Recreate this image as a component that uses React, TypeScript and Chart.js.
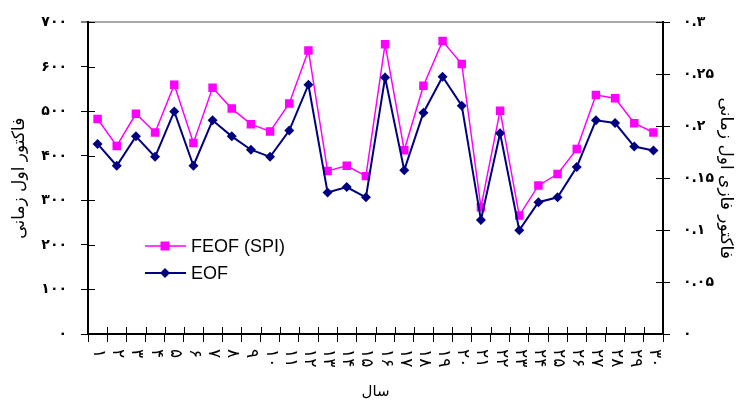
import React, { useEffect, useRef } from 'react';
import { Chart, registerables } from 'chart.js';

Chart.register(...registerables);

const categories = ['۱', '۲', '۳', '۴', '۵', '۶', '۷', '۸', '۹', '۱۰', '۱۱', '۱۲', '۱۳', '۱۴', '۱۵', '۱۶', '۱۷', '۱۸', '۱۹', '۲۰', '۲۱', '۲۲', '۲۳', '۲۴', '۲۵', '۲۶', '۲۷', '۲۸', '۲۹', '۳۰'];

// Fuzzy EOF (right axis)
const feofValues = [0.207, 0.181, 0.212, 0.194, 0.240, 0.184, 0.237, 0.217, 0.202, 0.195, 0.222, 0.273, 0.157, 0.162, 0.152, 0.279, 0.177, 0.239, 0.282, 0.260, 0.122, 0.215, 0.114, 0.143, 0.154, 0.178, 0.230, 0.227, 0.203, 0.194];

// EOF (left axis)
const eofValues = [427, 378, 444, 398, 500, 378, 480, 444, 414, 398, 457, 560, 318, 330, 307, 576, 368, 497, 578, 513, 256, 451, 233, 296, 307, 375, 480, 474, 421, 412];

const leftTickLabels = ['۰', '۱۰۰', '۲۰۰', '۳۰۰', '۴۰۰', '۵۰۰', '۶۰۰', '۷۰۰'];
const rightTickLabels = ['۰', '۰.۰۵', '۰.۱', '۰.۱۵', '۰.۲', '۰.۲۵', '۰.۳'];

const seriesLabels = ['FEOF (SPI)', 'EOF'];
const leftTitle = 'فاکتور اول زمانی';
const rightTitle = 'فاکتور فازی اول زمانی';
const xTitle = 'سال';

const ARABIC_FONT = 'Tahoma, "DejaVu Sans", sans-serif';
const MAGENTA = '#ff00ff';
const NAVY = '#000080';

const innerTicksPlugin = {
  id: 'innerTicks',
  afterDraw(chart: any) {
    const ctx = chart.ctx;
    const { x, y, y2 } = chart.scales;
    ctx.save();
    ctx.strokeStyle = '#000';
    ctx.lineWidth = 1;
    ctx.beginPath();
    y.ticks.forEach((t: any) => {
      const py = Math.round(y.getPixelForValue(t.value)) + 0.5;
      ctx.moveTo(y.right, py);
      ctx.lineTo(y.right + 7, py);
    });
    y2.ticks.forEach((t: any) => {
      const py = Math.round(y2.getPixelForValue(t.value)) + 0.5;
      ctx.moveTo(y2.left - 7, py);
      ctx.lineTo(y2.left, py);
    });
    const n = categories.length;
    const step = (x.right - x.left) / n;
    for (let k = 0; k <= n; k++) {
      const px = Math.round(x.left + k * step) + 0.5;
      ctx.moveTo(px, x.top - 7);
      ctx.lineTo(px, x.top);
    }
    ctx.stroke();

    // x tick labels, rotated clockwise
    ctx.fillStyle = '#000';
    ctx.font = `17px ${ARABIC_FONT}`;
    ctx.textAlign = 'left';
    ctx.textBaseline = 'middle';
    categories.forEach((lab, i) => {
      const px = x.getPixelForTick(i);
      ctx.save();
      ctx.translate(px + 1, x.top + 15);
      ctx.rotate(Math.PI / 2);
      ctx.fillText(lab, 0, 0);
      ctx.restore();
    });
    ctx.restore();
  },
};

const legendPlugin = {
  id: 'customLegend',
  afterDraw(chart: any) {
    const ctx = chart.ctx;
    const lx = 145;
    const rows = [
      { y: 246, color: MAGENTA, width: 1.5, marker: 'square', label: seriesLabels[0] },
      { y: 273, color: NAVY, width: 2, marker: 'diamond', label: seriesLabels[1] },
    ];
    ctx.save();
    rows.forEach((r) => {
      ctx.strokeStyle = r.color;
      ctx.lineWidth = r.width;
      ctx.beginPath();
      ctx.moveTo(lx, r.y);
      ctx.lineTo(lx + 41, r.y);
      ctx.stroke();
      ctx.fillStyle = r.color;
      const cx = lx + 20;
      ctx.beginPath();
      if (r.marker === 'square') {
        ctx.rect(cx - 4.5, r.y - 4.5, 9, 9);
      } else {
        ctx.moveTo(cx, r.y - 5);
        ctx.lineTo(cx + 5, r.y);
        ctx.lineTo(cx, r.y + 5);
        ctx.lineTo(cx - 5, r.y);
        ctx.closePath();
      }
      ctx.fill();
      ctx.fillStyle = '#000';
      ctx.font = '18px "Liberation Sans", Arial, sans-serif';
      ctx.textAlign = 'left';
      ctx.textBaseline = 'middle';
      ctx.fillText(r.label, lx + 46, r.y + 1);
    });
    ctx.restore();
  },
};

export default function App() {
  const ref = useRef<HTMLCanvasElement | null>(null);

  useEffect(() => {
    document.body.style.margin = '0';
    if (!ref.current) return;
    const chart = new Chart(ref.current, {
      type: 'line',
      data: {
        labels: categories,
        datasets: [
          {
            label: seriesLabels[0],
            data: feofValues,
            yAxisID: 'y2',
            borderColor: MAGENTA,
            backgroundColor: MAGENTA,
            borderWidth: 1.5,
            pointStyle: 'rect',
            pointRadius: 6,
            pointBorderWidth: 0,
            tension: 0,
            order: 2,
          },
          {
            label: seriesLabels[1],
            data: eofValues,
            yAxisID: 'y',
            borderColor: NAVY,
            backgroundColor: NAVY,
            borderWidth: 2,
            pointStyle: 'rectRot',
            pointRadius: 5,
            pointBorderWidth: 0,
            tension: 0,
            order: 1,
          },
        ],
      },
      options: {
        responsive: false,
        animation: false,
        devicePixelRatio: 1,
        layout: { padding: { top: 19, left: 0, right: 0, bottom: 0 } },
        plugins: {
          legend: { display: false },
          tooltip: { enabled: false },
        },
        scales: {
          x: {
            type: 'category',
            offset: true,
            grid: {
              offset: true,
              drawOnChartArea: false,
              color: '#000',
              tickLength: 8,
              lineWidth: 1,
            },
            border: { color: '#000', width: 2 },
            ticks: { display: false },
            title: {
              display: true,
              text: xTitle,
              color: '#000',
              font: { family: ARABIC_FONT, size: 15 },
              padding: { top: 0, bottom: 4 },
            },
            afterFit: (s: any) => {
              s.height = 71;
            },
          },
          y: {
            position: 'left',
            min: 0,
            max: 700,
            ticks: {
              stepSize: 100,
              color: '#000',
              padding: 14,
              font: { family: ARABIC_FONT, size: 14, weight: 'bold' },
              callback: (_v: any, i: number) => leftTickLabels[i],
            },
            grid: {
              drawOnChartArea: true,
              color: (c: any) => (c.tick && c.tick.value === 700 ? '#a8a8a8' : 'rgba(0,0,0,0)'),
              lineWidth: (c: any) => (c.tick && c.tick.value === 700 ? 2 : 1),
              tickColor: '#000',
              tickWidth: 1,
              tickLength: 7,
            },
            border: { color: '#000', width: 2 },
            title: {
              display: true,
              text: leftTitle,
              color: '#000',
              font: { family: ARABIC_FONT, size: 17 },
              padding: { top: 9, bottom: 0 },
            },
            afterFit: (s: any) => {
              s.width = 88;
            },
          },
          y2: {
            position: 'right',
            min: 0,
            max: 0.3,
            ticks: {
              stepSize: 0.05,
              color: '#000',
              padding: 13,
              font: { family: ARABIC_FONT, size: 14, weight: 'bold' },
              callback: (_v: any, i: number) => rightTickLabels[i],
            },
            grid: {
              drawOnChartArea: false,
              tickColor: '#000',
              tickWidth: 1,
              tickLength: 7,
            },
            border: { color: '#000', width: 2 },
            title: {
              display: true,
              text: rightTitle,
              color: '#000',
              font: { family: ARABIC_FONT, size: 17 },
              padding: { top: 5, bottom: 0 },
            },
            afterFit: (s: any) => {
              s.width = 78;
            },
          },
        },
      } as any,
      plugins: [innerTicksPlugin, legendPlugin],
    });
    return () => chart.destroy();
  }, []);

  return (
    <div style={{ width: 741, height: 405 }}>
      <canvas ref={ref} width={741} height={405} style={{ display: 'block' }} />
    </div>
  );
}
